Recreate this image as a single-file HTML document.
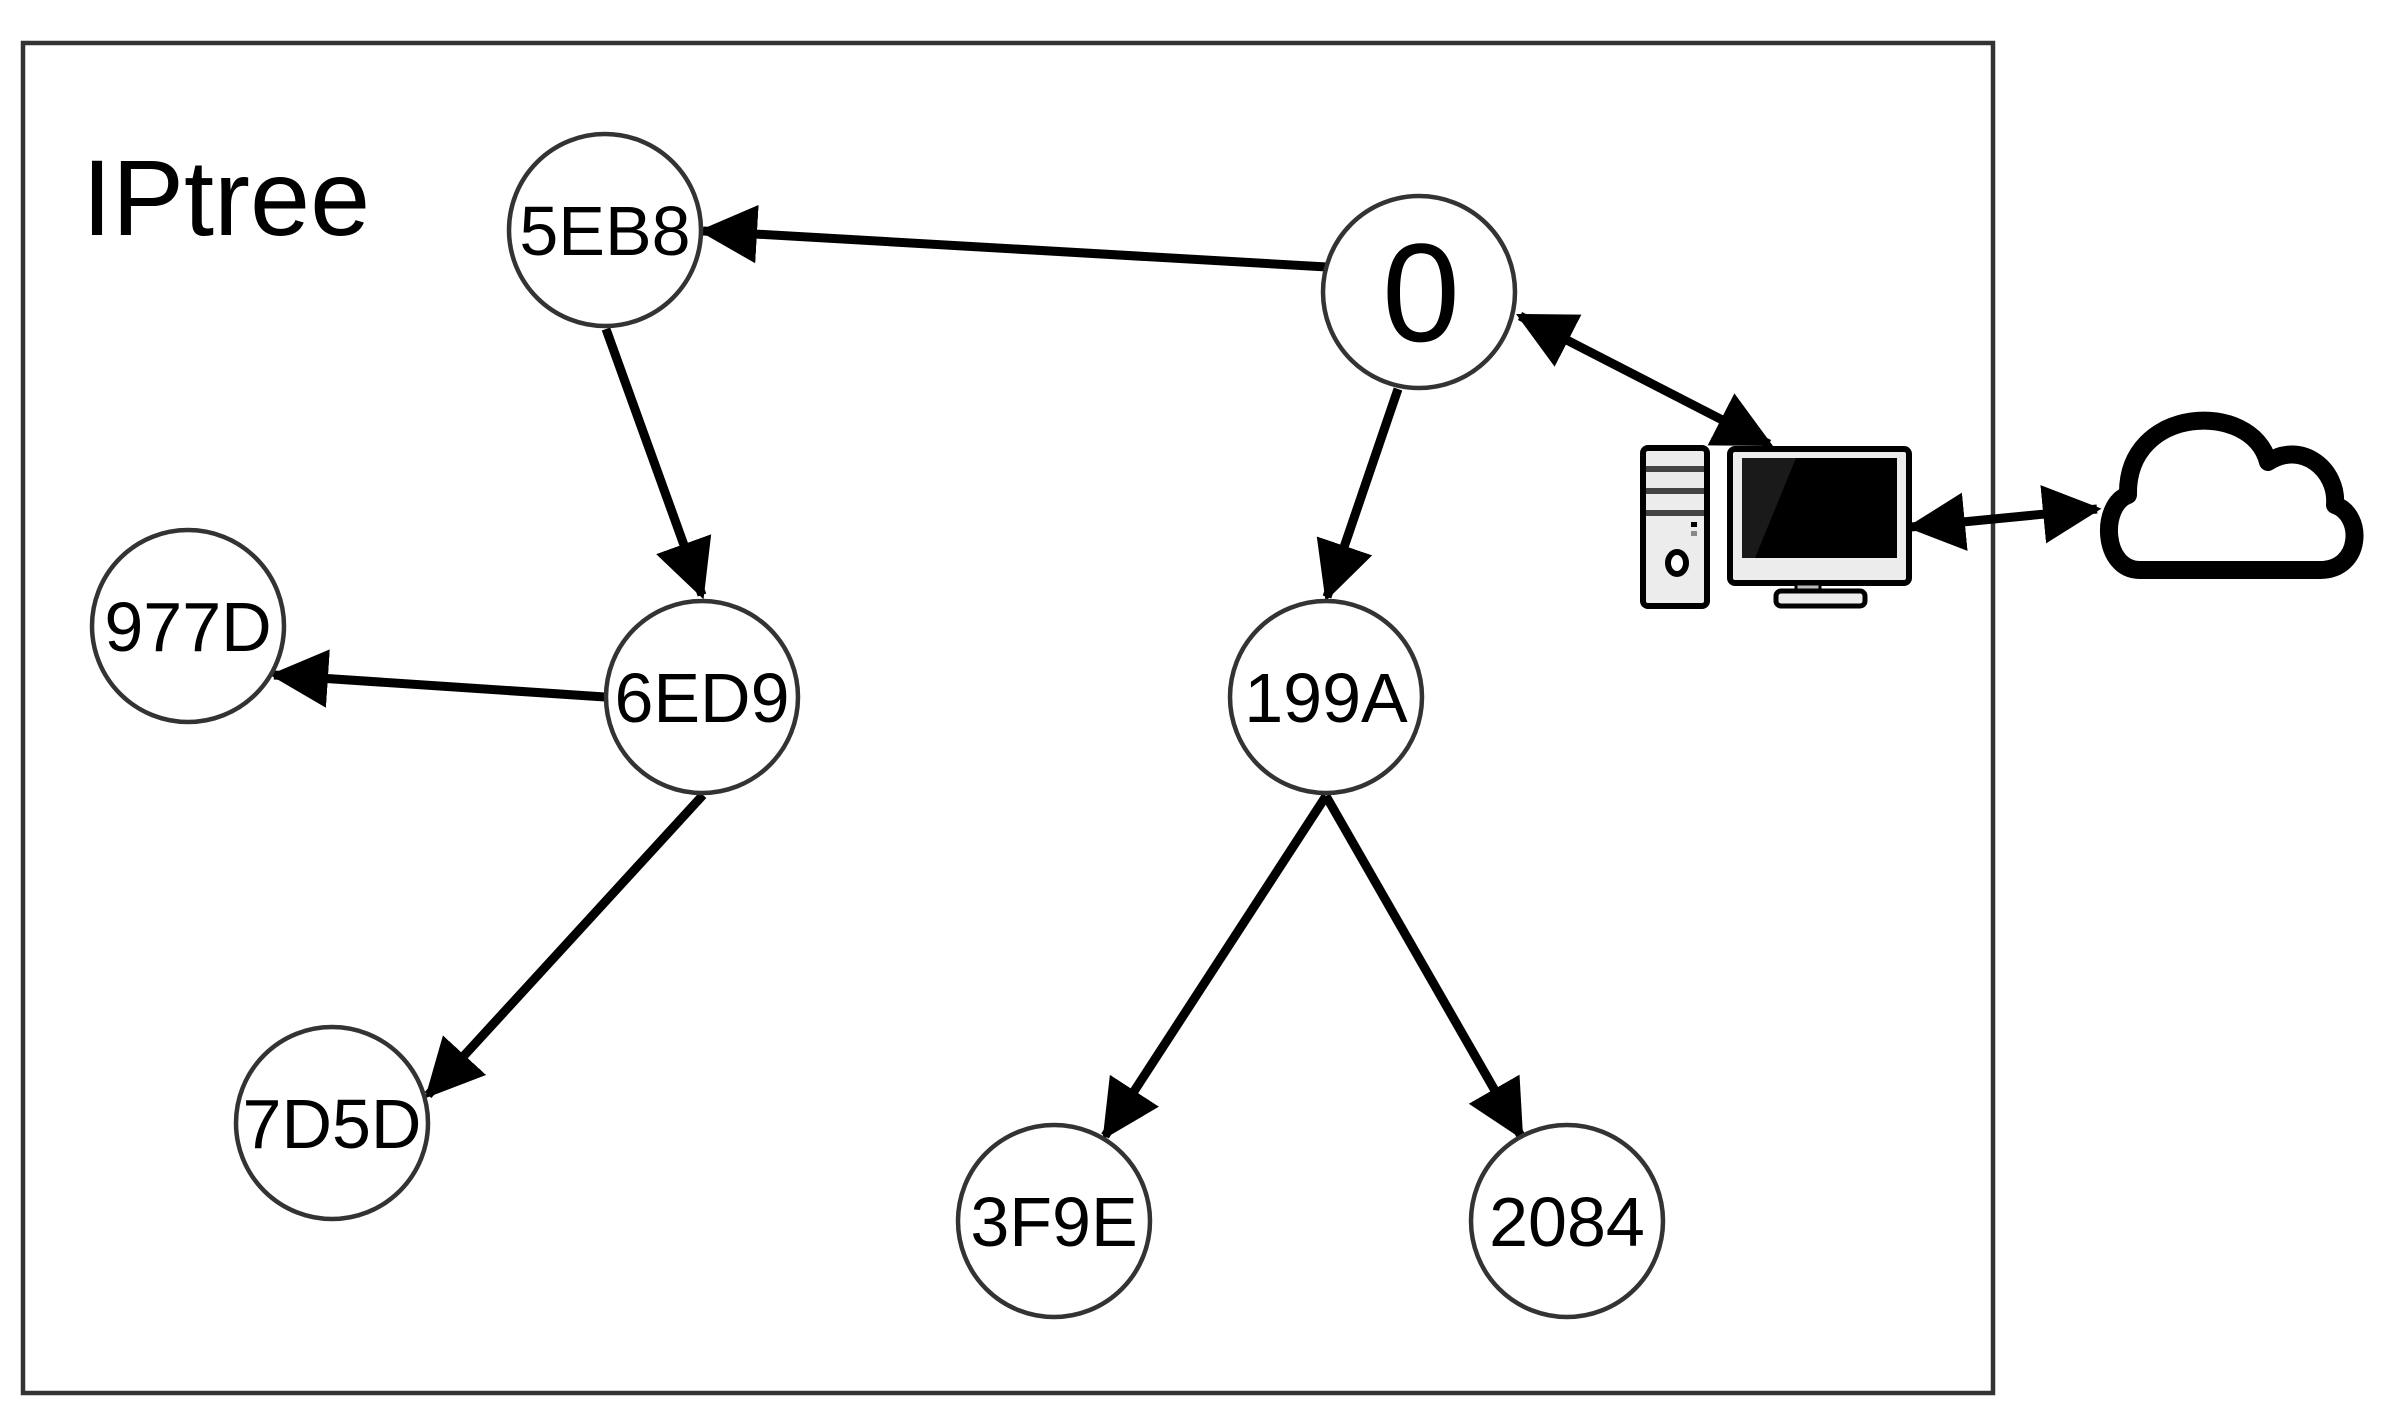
<!DOCTYPE html>
<html><head><meta charset="utf-8"><style>
html,body{margin:0;padding:0;background:#fff;}
svg{display:block;}
text{font-family:"Liberation Sans",sans-serif;fill:#000;}
</style></head><body>
<svg width="2385" height="1401" viewBox="0 0 2385 1401" xmlns="http://www.w3.org/2000/svg">
<defs>
<marker id="a" markerWidth="6.5" markerHeight="6.5" refX="6" refY="3.25" orient="auto-start-reverse" markerUnits="strokeWidth">
<path d="M0,0 L6.5,3.25 L0,6.5 Z" fill="#000"/>
</marker>
</defs>
<rect x="23" y="43" width="1970" height="1350" fill="none" stroke="#333" stroke-width="4.5"/>
<text x="82" y="235" font-size="108">IPtree</text>

<g transform="translate(-3,-2)">
<g stroke="#000" stroke-width="9" fill="none">
<line x1="1330" y1="269" x2="706" y2="233" marker-end="url(#a)"/>
<line x1="609" y1="331" x2="705" y2="597" marker-end="url(#a)"/>
<line x1="608" y1="699" x2="277" y2="677" marker-end="url(#a)"/>
<line x1="706" y1="797" x2="431" y2="1097" marker-end="url(#a)"/>
<line x1="1401" y1="391" x2="1330" y2="599" marker-end="url(#a)"/>
<line x1="1329" y1="798" x2="1108" y2="1138" marker-end="url(#a)"/>
<line x1="1329" y1="798" x2="1524" y2="1138" marker-end="url(#a)"/>
<line x1="1523" y1="318" x2="1772" y2="446" marker-start="url(#a)" marker-end="url(#a)"/>
<line x1="1914" y1="529" x2="2100" y2="511" marker-start="url(#a)" marker-end="url(#a)"/>
</g>

<g fill="#fff" stroke="#333" stroke-width="4.5">
<circle cx="608" cy="232" r="96"/>
<circle cx="1422" cy="294" r="96"/>
<circle cx="191" cy="628" r="96"/>
<circle cx="705" cy="699" r="96"/>
<circle cx="1329" cy="699" r="96"/>
<circle cx="335" cy="1125" r="96"/>
<circle cx="1057" cy="1223" r="96"/>
<circle cx="1570" cy="1223" r="96"/>
</g>
<g font-size="70" text-anchor="middle">
<text x="608" y="257">5EB8</text>
<text x="191" y="653">977D</text>
<text x="705" y="724">6ED9</text>
<text x="1329" y="724">199A</text>
<text x="335" y="1150">7D5D</text>
<text x="1057" y="1248">3F9E</text>
<text x="1570" y="1248">2084</text>
<text x="1424" y="343" font-size="140">0</text>
</g>

<g>
<rect x="1646" y="450" width="64" height="158" rx="5" fill="#ececec" stroke="#000" stroke-width="6"/>
<rect x="1649" y="468" width="58" height="6" fill="#444"/>
<rect x="1649" y="490" width="58" height="6" fill="#444"/>
<rect x="1649" y="512" width="58" height="6" fill="#444"/>
<rect x="1694" y="524" width="6" height="5" fill="#000"/>
<rect x="1694" y="533" width="6" height="5" fill="#888"/>
<ellipse cx="1680" cy="565" rx="9" ry="11" fill="#fff" stroke="#000" stroke-width="6"/>
<rect x="1733" y="451" width="179" height="134" rx="5" fill="#ececec" stroke="#000" stroke-width="6"/>
<rect x="1745" y="460" width="155" height="100" fill="#000"/>
<polygon points="1745,460 1799,460 1758,560 1745,560" fill="#1a1a1a"/>
<rect x="1799" y="586" width="24" height="8" fill="#bbb" stroke="#000" stroke-width="3"/>
<rect x="1779" y="593" width="89" height="15" rx="5" fill="#ececec" stroke="#000" stroke-width="5"/>
</g>
</g>

<path d="M2140,570 C2102,570 2100,505 2128,495 C2126,405 2252,400 2268,462 C2302,440 2338,470 2335,505 C2364,515 2362,570 2320,570 Z" fill="#fff" stroke="#000" stroke-width="18" stroke-linejoin="round"/>
</svg>
</body></html>
